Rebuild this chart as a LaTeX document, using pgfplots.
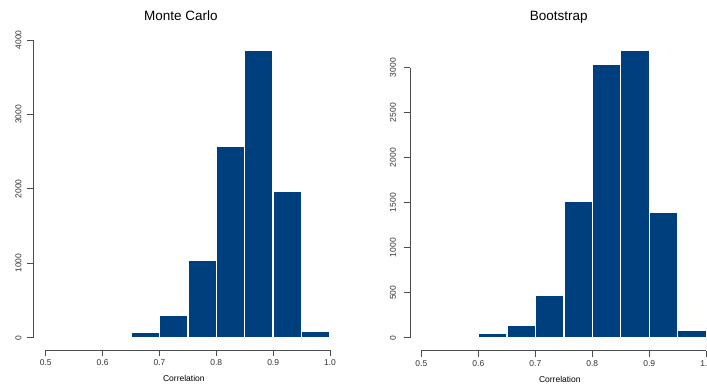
\documentclass[border=0pt]{standalone}
\usepackage{pgfplots}
\pgfplotsset{compat=1.18}
\usepackage{fontspec}
\setmainfont{Liberation Sans}
\definecolor{barblue}{RGB}{0,63,125}
\definecolor{axgray}{gray}{0.3}
\pgfplotsset{
 rstyle/.style={
  scale only axis, clip=false,
  axis x line*=bottom, axis y line*=left,
  axis line style={draw=none},
  tick align=outside, major tick length=6pt,
  tick style={axgray, line width=0.7pt},
  xtick={0.5,0.6,0.7,0.8,0.9,1.0},
  xticklabels={0.5,0.6,0.7,0.8,0.9,1.0},
  xmax=1.02,
  ticklabel style={font=\fontsize{8.5}{10}\selectfont, text=black!80},
  yticklabel style={rotate=90, anchor=south},
  xticklabel shift=0.5pt,
  xlabel={Correlation},
  xlabel style={font=\fontsize{8.5}{10}\selectfont, at={(axis description cs:0.5,0)}, anchor=base, yshift=-31.5pt},
  title style={font=\fontsize{13.5}{16}\selectfont, at={(axis description cs:0.5,1)}, anchor=base, yshift=12pt},
  /pgf/number format/assume math mode=true,
 }}
\begin{document}
\begin{tikzpicture}
\useasboundingbox (0pt,0pt) rectangle (707pt,383pt);
\clip (0pt,0pt) rectangle (707pt,383pt);
\begin{axis}[rstyle, at={(33.5pt,33pt)}, anchor=south west, width=307.9pt, height=311.5pt,
  xmin=0.4785, ymin=-165, ymax=4019, ytick={0,1000,2000,3000,4000}, yticklabels={0,1000,2000,3000,4000},
  yticklabel shift=2.5pt,
  title={Monte Carlo}, title style={xshift=-6.5pt}, xlabel style={xshift=-3.6pt}]
\addplot[ybar interval, fill=barblue, draw=white, line width=1.4pt] coordinates {
 (0.50,3) (0.55,2) (0.60,12) (0.65,72) (0.70,295) (0.75,1043) (0.80,2573) (0.85,3862) (0.90,1973) (0.95,80) (1.00,80)};
\draw[axgray, line width=0.7pt] (axis cs:0.4785,0) -- (axis cs:0.4785,4000);
\draw[axgray, line width=0.7pt] (axis cs:0.5,-165) -- (axis cs:1.0,-165);
\end{axis}
\begin{axis}[rstyle, at={(410pt,32.3pt)}, anchor=south west, width=307.6pt, height=312.2pt,
  xmin=0.48, ymin=-144.4, ymax=3324, ytick={0,500,1000,1500,2000,2500,3000}, yticklabels={0,500,1000,1500,2000,2500,3000},
  yticklabel shift=4.5pt,
  title={Bootstrap}, title style={xshift=-5pt}, xlabel style={xshift=-4pt}]
\addplot[ybar interval, fill=barblue, draw=white, line width=1.4pt] coordinates {
 (0.50,10) (0.55,10) (0.60,49) (0.65,141) (0.70,471) (0.75,1515) (0.80,3037) (0.85,3196) (0.90,1389) (0.95,85) (1.00,85)};
\draw[axgray, line width=0.7pt] (axis cs:0.48,0) -- (axis cs:0.48,3000);
\draw[axgray, line width=0.7pt] (axis cs:0.5,-144.4) -- (axis cs:1.0,-144.4);
\end{axis}
\end{tikzpicture}
\end{document}
